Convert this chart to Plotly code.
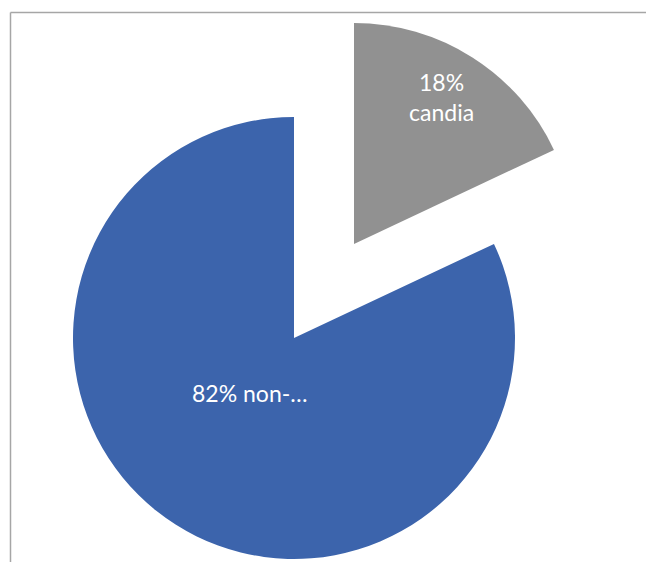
import plotly.graph_objects as go

labels = ["candia", "non-candia"]
shown_labels = ["candia", "non-…"]
values = [18, 82]
colors = ["#919191", "#3C64AC"]

W, H = 646, 562

def dom(cx, cy, r):
    return dict(x=[(cx - r) / W, (cx + r) / W], y=[1 - (cy + r) / H, 1 - (cy - r) / H])

def px(x, y):
    return x / W, 1 - y / H

R = 221
main_center = (294, 338)
pulled_center = (354, 244)

total = sum(values)
pcts = [round(v * 100 / total) for v in values]

fig = go.Figure()
fig.add_trace(go.Pie(
    labels=labels, values=values,
    sort=False, direction="clockwise", rotation=0,
    marker=dict(colors=["rgba(0,0,0,0)", colors[1]], line=dict(width=0)),
    textinfo="none", domain=dom(*main_center, R), showlegend=False, hoverinfo="skip",
))
fig.add_trace(go.Pie(
    labels=labels, values=values,
    sort=False, direction="clockwise", rotation=0,
    marker=dict(colors=[colors[0], "rgba(0,0,0,0)"], line=dict(width=0)),
    textinfo="none", domain=dom(*pulled_center, R), showlegend=False, hoverinfo="skip",
))

font = dict(family="Lato", size=23, color="white")
ax0, ay0 = px(441, 97)
ax1, ay1 = px(250, 393)
annotations = [
    dict(text=f"{pcts[0]}%<br>{shown_labels[0]}", x=ax0, y=ay0, xref="paper", yref="paper",
         showarrow=False, font=font, xanchor="center", yanchor="middle"),
    dict(text=f"{pcts[1]}% {shown_labels[1]}", x=ax1, y=ay1, xref="paper", yref="paper",
         showarrow=False, font=font, xanchor="center", yanchor="middle"),
]

fig.update_layout(
    width=W, height=H, margin=dict(l=0, r=0, t=0, b=0),
    paper_bgcolor="white", plot_bgcolor="white",
    annotations=annotations,
    shapes=[
        dict(type="line", xref="paper", yref="paper", x0=10.5 / W, x1=1, y0=1 - 12.5 / H, y1=1 - 12.5 / H,
             line=dict(color="#A6A6A6", width=1.5)),
        dict(type="line", xref="paper", yref="paper", x0=10.5 / W, x1=10.5 / W, y0=0, y1=1 - 12.5 / H,
             line=dict(color="#A6A6A6", width=1.5)),
    ],
)

fig.write_html("out.html", config={"displayModeBar": False},
               post_script="document.body.style.margin='0px';")
